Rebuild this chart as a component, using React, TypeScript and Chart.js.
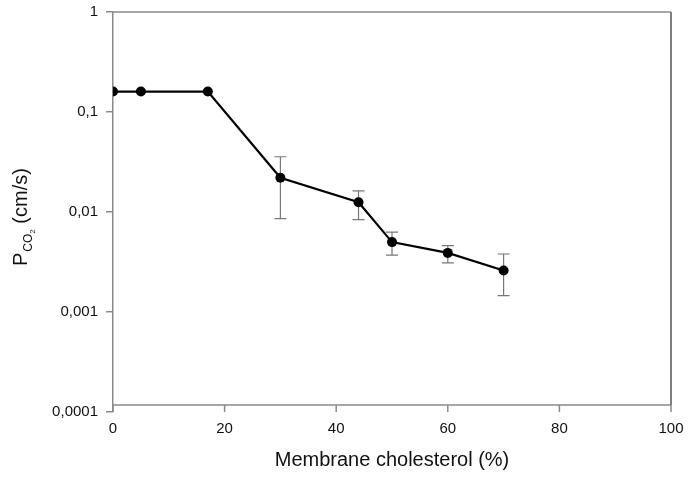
import React, { useEffect, useRef } from "react";
import { Chart, registerables } from "chart.js";

Chart.register(...registerables);

const cholesterol = [0, 5, 17, 30, 44, 50, 60, 70];
const pco2 = [0.16, 0.16, 0.16, 0.022, 0.0125, 0.005, 0.0039, 0.0026];
const errHigh = [null, null, null, 0.0357, 0.0163, 0.0063, 0.0046, 0.0038];
const errLow = [null, null, null, 0.0086, 0.0084, 0.0037, 0.0031, 0.00146];
const yTicks = [0.0001, 0.001, 0.01, 0.1, 1];
const xTicks = [0, 20, 40, 60, 80, 100];

const FONT = "'Liberation Sans', Arial, sans-serif";
const AXIS = "#8a8a8a";

const framePlugin = {
  id: "frame",
  beforeDatasetsDraw(chart: any) {
    const { ctx, scales } = chart;
    const xs = scales.x, ys = scales.y;
    ctx.save();
    ctx.strokeStyle = "#777";
    ctx.lineWidth = 1.2;
    for (let i = 0; i < cholesterol.length; i++) {
      const hi = errHigh[i], lo = errLow[i];
      if (hi == null || lo == null) continue;
      const px = xs.getPixelForValue(cholesterol[i]);
      const py1 = ys.getPixelForValue(hi);
      const py2 = ys.getPixelForValue(lo);
      ctx.beginPath();
      ctx.moveTo(px, py1); ctx.lineTo(px, py2);
      ctx.moveTo(px - 6, py1); ctx.lineTo(px + 6, py1);
      ctx.moveTo(px - 6, py2); ctx.lineTo(px + 6, py2);
      ctx.stroke();
    }
    ctx.restore();
  },
  afterDraw(chart: any) {
    const { ctx, chartArea: a, scales } = chart;
    const xs = scales.x;
    const axisY = a.bottom - 7;
    ctx.save();
    ctx.strokeStyle = AXIS;
    ctx.lineWidth = 1.5;
    ctx.beginPath();
    ctx.moveTo(a.left, a.top); ctx.lineTo(a.right, a.top);
    ctx.moveTo(a.left, axisY); ctx.lineTo(a.right, axisY);
    ctx.stroke();
    ctx.strokeStyle = "#555";
    ctx.beginPath();
    ctx.moveTo(a.right, a.top); ctx.lineTo(a.right, axisY);
    ctx.stroke();
    ctx.strokeStyle = AXIS;
    ctx.beginPath();
    for (const t of xTicks) {
      const px = xs.getPixelForValue(t);
      ctx.moveTo(px, axisY); ctx.lineTo(px, a.bottom);
    }
    ctx.stroke();

    ctx.fillStyle = "#111";
    ctx.font = `20px ${FONT}`;
    ctx.textAlign = "center";
    ctx.textBaseline = "alphabetic";
    ctx.fillText("Membrane cholesterol (%)", (a.left + a.right) / 2, 466);

    ctx.translate(27, 266);
    ctx.rotate(-Math.PI / 2);
    ctx.textAlign = "left";
    let x = 0;
    ctx.font = `20px ${FONT}`;
    ctx.fillText("P", x, 0);
    x += ctx.measureText("P").width + 1;
    ctx.font = `12px ${FONT}`;
    ctx.fillText("CO", x, 5);
    x += ctx.measureText("CO").width;
    ctx.font = `8px ${FONT}`;
    ctx.fillText("2", x, 8);
    x += ctx.measureText("2").width;
    ctx.font = `20px ${FONT}`;
    ctx.fillText(" (cm/s)", x, 0);
    ctx.restore();
  },
};

export default function App() {
  const ref = useRef<HTMLCanvasElement | null>(null);
  useEffect(() => {
    if (!ref.current) return;
    const chart = new Chart(ref.current, {
      type: "line",
      data: {
        datasets: [
          {
            data: cholesterol.map((c, i) => ({ x: c, y: pco2[i] })),
            borderColor: "#000",
            borderWidth: 2.2,
            pointRadius: 5,
            pointBackgroundColor: "#000",
            pointBorderColor: "#000",
            pointBorderWidth: 0,
            tension: 0,
          },
        ],
      },
      options: {
        responsive: false,
        animation: false,
        events: [],
        layout: { padding: { top: 12, right: 19, left: 0, bottom: 0 } },
        plugins: { legend: { display: false }, tooltip: { enabled: false } },
        scales: {
          x: {
            type: "linear",
            min: 0,
            max: 100,
            afterBuildTicks: (s: any) => {
              s.ticks = xTicks.map((v) => ({ value: v }));
            },
            ticks: {
              font: { family: FONT, size: 15 },
              color: "#111",
              padding: 8,
              maxRotation: 0,
              autoSkip: false,
            },
            grid: { display: false, drawTicks: false },
            border: { display: false },
            afterFit: (s: any) => {
              s.height = 67;
              s.paddingLeft = 0;
              s.paddingRight = 0;
            },
          },
          y: {
            type: "logarithmic",
            min: 0.0001,
            max: 1,
            afterBuildTicks: (s: any) => {
              s.ticks = yTicks.map((v) => ({ value: v }));
            },
            ticks: {
              font: { family: FONT, size: 15 },
              color: "#111",
              padding: 8,
              autoSkip: false,
              callback: (v: any) => String(Number(v)).replace(".", ","),
            },
            grid: {
              drawOnChartArea: false,
              tickLength: 7,
              color: AXIS,
              lineWidth: 1.5,
            },
            border: { display: true, color: AXIS, width: 1.5 },
            afterFit: (s: any) => {
              s.width = 113;
              s.paddingTop = 0;
              s.paddingBottom = 0;
            },
          },
        },
      },
      plugins: [framePlugin],
    });
    return () => chart.destroy();
  }, []);
  return (
    <div style={{ position: "absolute", left: 0, top: 0, width: 690, height: 479, background: "#fff" }}>
      <canvas ref={ref} width={690} height={479} style={{ display: "block" }} />
    </div>
  );
}
